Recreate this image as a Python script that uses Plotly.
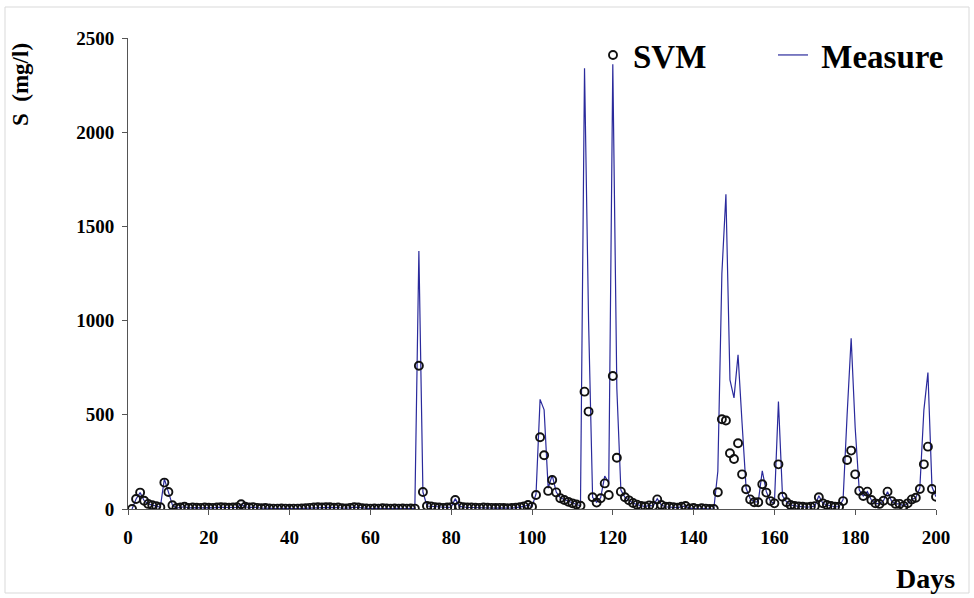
import plotly.graph_objects as go

days = list(range(1, 201))

svm = [
    0, 53, 87, 44, 27, 20, 15, 9, 140, 90,
    20, 5, 8, 12, 6, 8, 7, 6, 8, 7,
    6, 8, 10, 8, 7, 8, 9, 25, 12, 8,
    10, 6, 4, 5, 3, 2, 2, 3, 2, 1,
    2, 2, 3, 4, 6, 8, 9, 8, 10, 9,
    7, 8, 4, 3, 6, 10, 8, 4, 3, 2,
    3, 2, 4, 3, 2, 3, 2, 3, 2, 3,
    2, 760, 90, 16, 14, 10, 8, 6, 8, 10,
    48, 14, 10, 8, 8, 7, 6, 8, 7, 6,
    5, 6, 5, 4, 5, 7, 10, 14, 21, 12,
    74, 381, 285, 96, 154, 88, 57, 48, 38, 30,
    24, 17, 623, 517, 62, 34, 57, 136, 74, 706,
    272, 92, 62, 46, 32, 23, 16, 13, 19, 16,
    51, 21, 12, 12, 9, 7, 12, 16, 3, 5,
    0, 4, 2, 0, 0, 89, 476, 470, 296, 265,
    349, 184, 105, 51, 36, 36, 131, 87, 42, 30,
    237, 65, 36, 21, 16, 14, 12, 10, 12, 15,
    62, 30, 21, 16, 12, 12, 42, 260, 310, 184,
    96, 69, 92, 48, 30, 27, 44, 92, 42, 27,
    27, 16, 30, 51, 60, 106, 237, 331, 106, 65,
]

measure = [
    0, 53, 87, 44, 27, 20, 15, 9, 160, 90,
    20, 5, 8, 12, 6, 8, 7, 6, 8, 7,
    6, 8, 10, 8, 7, 8, 9, 25, 12, 8,
    10, 6, 4, 5, 3, 2, 2, 3, 2, 1,
    2, 2, 3, 4, 6, 8, 9, 8, 10, 9,
    7, 8, 4, 3, 6, 10, 8, 4, 3, 2,
    3, 2, 4, 3, 2, 3, 2, 3, 2, 3,
    2, 1370, 90, 16, 14, 10, 8, 6, 8, 10,
    55, 14, 10, 8, 8, 7, 6, 8, 7, 6,
    5, 6, 5, 4, 5, 7, 10, 14, 21, 12,
    80, 582, 526, 110, 180, 90, 60, 50, 40, 30,
    24, 17, 2340, 1000, 62, 36, 60, 175, 140, 2360,
    640, 100, 62, 46, 32, 23, 16, 13, 19, 16,
    55, 21, 12, 12, 9, 7, 12, 16, 3, 5,
    0, 4, 2, 0, 0, 200, 1250, 1670, 685, 590,
    818, 455, 110, 55, 38, 38, 203, 92, 42, 28,
    570, 70, 38, 21, 16, 14, 12, 10, 12, 15,
    70, 30, 21, 16, 12, 12, 50, 500, 906, 430,
    100, 69, 92, 48, 30, 27, 44, 92, 42, 27,
    27, 16, 30, 51, 60, 112, 525, 724, 118, 65,
]

x_ticks = [0, 20, 40, 60, 80, 100, 120, 140, 160, 180, 200]
y_ticks = [0, 500, 1000, 1500, 2000, 2500]

FONT = "Liberation Serif"
L, R, T, B = 128, 38, 38, 89
W, H = 974, 598
pw, ph = W - L - R, H - T - B

def px(x):
    return (x - L) / pw

def py(y):
    return (H - B - y) / ph

fig = go.Figure()
fig.add_trace(go.Scatter(
    x=days, y=measure, mode="lines", name="\u00a0Measure",
    line=dict(color="#2a2a9c", width=1.2), legendrank=2,
))
fig.add_trace(go.Scatter(
    x=days, y=svm, mode="markers", name="SVM",
    marker=dict(symbol="circle-open", size=8, color="#111111", line=dict(width=1.9)),
    legendrank=1,
))

axis_common = dict(
    showgrid=False, zeroline=False, showline=True, linecolor="#555555", linewidth=1,
    ticks="outside", ticklen=5, tickcolor="#555555",
    tickfont=dict(family=FONT, size=19, color="black", weight="bold"),
)
fig.update_xaxes(range=[0, 200], tickvals=x_ticks, ticklabelstandoff=6, **axis_common)
fig.update_yaxes(range=[0, 2500], tickvals=y_ticks, ticklabelstandoff=4, **axis_common)

fig.update_layout(
    width=W, height=H,
    margin=dict(l=L, r=R, t=T, b=B),
    plot_bgcolor="white", paper_bgcolor="white",
    showlegend=True,
    legend=dict(
        orientation="h", x=px(593), xanchor="left", y=py(55), yanchor="middle",
        font=dict(family=FONT, size=33, color="black", weight="bold"),
        bgcolor="rgba(0,0,0,0)", entrywidth=135, entrywidthmode="pixels",
    ),
    annotations=[
        dict(text="S  (mg/l)", textangle=-90, xref="paper", yref="paper",
             x=px(20), y=py(85), xanchor="center", yanchor="middle", showarrow=False,
             font=dict(family=FONT, size=23, color="black", weight="bold")),
        dict(text="Days", xref="paper", yref="paper",
             x=px(957), y=py(578), xanchor="right", yanchor="middle", showarrow=False,
             font=dict(family=FONT, size=28, color="black", weight="bold")),
    ],
    shapes=[
        dict(type="rect", xref="paper", yref="paper",
             x0=px(5), x1=px(969), y0=py(593), y1=py(7),
             line=dict(color="#d9d9d9", width=1), fillcolor="rgba(0,0,0,0)"),
    ],
)

fig.write_html("out.html", config={"displayModeBar": False},
               post_script="document.body.style.margin='0';")
